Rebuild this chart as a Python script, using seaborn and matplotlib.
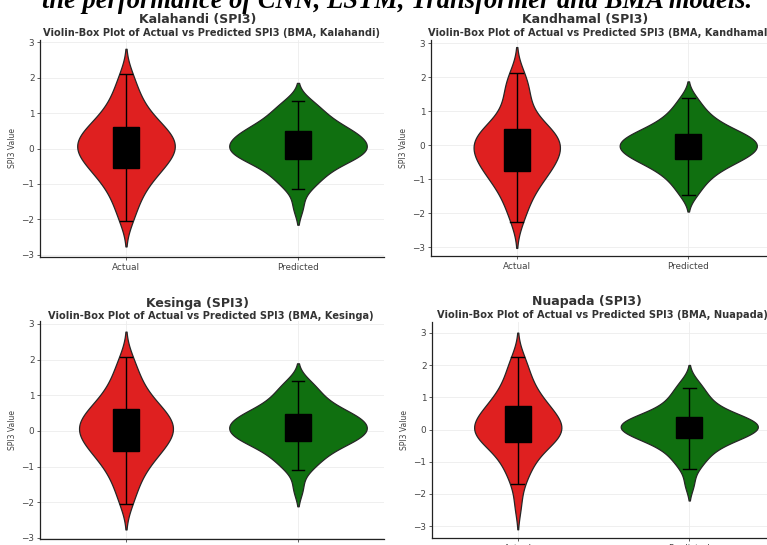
import numpy as np
import pandas as pd
import matplotlib
matplotlib.use("Agg")
import matplotlib.pyplot as plt
import seaborn as sns

# ---------------- data ----------------
categories = ["Actual", "Predicted"]
stations = ["Kalahandi", "Kandhamal", "Kesinga", "Nuapada"]

kalahandi_actual = [-2.05, -1.74, -1.50, -1.31, -1.15, -1.01, -0.89, -0.79, -0.70, -0.62, -0.55,
                    -0.475, -0.405, -0.34, -0.28, -0.22, -0.165, -0.11, -0.055, -0.005, 0.05,
                    0.095, 0.14, 0.19, 0.24, 0.295, 0.35, 0.41, 0.47, 0.535, 0.60,
                    0.67, 0.75, 0.84, 0.94, 1.06, 1.20, 1.36, 1.55, 1.79, 2.10]
kalahandi_pred = [-1.65, -1.15, -0.995, -0.865, -0.755, -0.655, -0.565, -0.485, -0.415, -0.35, -0.29,
                  -0.25, -0.215, -0.18, -0.145, -0.11, -0.07, -0.035, 0.0, 0.04, 0.08,
                  0.12, 0.16, 0.20, 0.24, 0.28, 0.32, 0.36, 0.405, 0.45, 0.49,
                  0.54, 0.595, 0.655, 0.725, 0.805, 0.895, 0.995, 1.105, 1.225, 1.35]
kandhamal_actual = [-2.25, -1.94, -1.70, -1.51, -1.35, -1.21, -1.09, -0.99, -0.90, -0.82, -0.75,
                    -0.67, -0.595, -0.525, -0.46, -0.395, -0.335, -0.275, -0.22, -0.165, -0.10,
                    -0.045, 0.01, 0.065, 0.12, 0.175, 0.23, 0.285, 0.345, 0.405, 0.46,
                    0.53, 0.62, 0.74, 0.89, 1.07, 1.27, 1.48, 1.69, 1.89, 2.11]
kandhamal_pred = [-1.47, -1.24, -1.07, -0.94, -0.83, -0.735, -0.655, -0.585, -0.525, -0.47, -0.42,
                  -0.375, -0.332, -0.291, -0.252, -0.214, -0.177, -0.14, -0.104, -0.067, -0.03,
                  0.005, 0.04, 0.075, 0.11, 0.145, 0.18, 0.22, 0.26, 0.30, 0.34,
                  0.39, 0.445, 0.505, 0.575, 0.655, 0.75, 0.86, 0.99, 1.16, 1.39]
kesinga_actual = [-2.05, -1.74, -1.50, -1.31, -1.15, -1.01, -0.89, -0.79, -0.70, -0.62, -0.55,
                  -0.475, -0.405, -0.34, -0.28, -0.22, -0.165, -0.11, -0.055, -0.005, 0.05,
                  0.095, 0.145, 0.195, 0.245, 0.30, 0.355, 0.415, 0.477, 0.543, 0.61,
                  0.68, 0.76, 0.85, 0.95, 1.07, 1.21, 1.37, 1.55, 1.78, 2.07]
kesinga_pred = [-1.62, -1.11, -0.955, -0.83, -0.72, -0.62, -0.535, -0.46, -0.395, -0.335, -0.28,
                -0.24, -0.205, -0.17, -0.135, -0.10, -0.06, -0.025, 0.01, 0.05, 0.09,
                0.13, 0.165, 0.20, 0.24, 0.28, 0.315, 0.35, 0.39, 0.43, 0.47,
                0.52, 0.575, 0.64, 0.715, 0.80, 0.895, 1.005, 1.125, 1.255, 1.40]
nuapada_actual = [-2.35, -1.69, -1.425, -1.215, -1.045, -0.895, -0.765, -0.65, -0.55, -0.46, -0.38,
                  -0.33, -0.28, -0.23, -0.18, -0.13, -0.08, -0.03, 0.02, 0.07, 0.12,
                  0.165, 0.215, 0.27, 0.33, 0.39, 0.455, 0.52, 0.59, 0.66, 0.73,
                  0.81, 0.90, 1.00, 1.115, 1.245, 1.395, 1.565, 1.765, 2.00, 2.26]
nuapada_pred = [-1.70, -1.22, -1.03, -0.88, -0.75, -0.64, -0.545, -0.46, -0.385, -0.32, -0.26,
                -0.225, -0.19, -0.155, -0.12, -0.085, -0.05, -0.015, 0.02, 0.05, 0.08,
                0.11, 0.14, 0.175, 0.205, 0.24, 0.27, 0.30, 0.335, 0.365, 0.40,
                0.46, 0.525, 0.60, 0.685, 0.78, 0.89, 1.01, 1.14, 1.30, 1.50]

series = {
    "Kalahandi": (kalahandi_actual, kalahandi_pred),
    "Kandhamal": (kandhamal_actual, kandhamal_pred),
    "Kesinga": (kesinga_actual, kesinga_pred),
    "Nuapada": (nuapada_actual, nuapada_pred),
}
yticks = [-3, -2, -1, 0, 1, 2, 3]

# ---------------- layout (pixels) ----------------
W, H = 767, 545
fig = plt.figure(figsize=(W / 100, H / 100), dpi=100)


def px_axes(l, t, r, b):
    return fig.add_axes([l / W, 1 - b / H, (r - l) / W, (b - t) / H])


panel_boxes = {
    "Kalahandi": (40, 40, 384, 257),
    "Kandhamal": (431, 40, 774, 256),
    "Kesinga": (40, 321, 384, 539),
    "Nuapada": (432, 322, 775, 538),
}
panel_ylims = {
    "Kalahandi": (-3.06, 3.06),
    "Kandhamal": (-3.26, 3.09),
    "Kesinga": (-3.03, 3.08),
    "Nuapada": (-3.37, 3.34),
}
title_pos = {
    "Kalahandi": (198, 20, 211, 33),
    "Kandhamal": (585, 20, 600, 33),
    "Kesinga": (197, 303, 211, 316),
    "Nuapada": (587, 302, 602, 315),
}

palette = ["red", "green"]

for name in stations:
    act, pred = series[name]
    df = pd.DataFrame({
        "Type": [categories[0]] * len(act) + [categories[1]] * len(pred),
        "SPI3": list(act) + list(pred),
    })
    ax = px_axes(*panel_boxes[name])
    sns.violinplot(data=df, x="Type", y="SPI3", hue="Type", palette=palette,
                   legend=False, inner=None, bw_method=0.4, cut=1.9,
                   common_norm=True, density_norm="area",
                   linewidth=0.9, ax=ax)
    sns.boxplot(data=df, x="Type", y="SPI3", width=0.15, color="black",
                saturation=1, linecolor="black", linewidth=1.0,
                showfliers=False, ax=ax)
    ax.set_ylim(*panel_ylims[name])
    ax.set_xlim(-0.5, 1.5)
    ax.set_yticks(yticks)
    ax.grid(True, color="#ececec", linewidth=0.6)
    ax.set_axisbelow(True)
    for s in ["top", "right"]:
        ax.spines[s].set_visible(False)
    for s in ["left", "bottom"]:
        ax.spines[s].set_color("#222222")
        ax.spines[s].set_linewidth(0.9)
    ax.tick_params(axis="both", labelsize=6.4, colors="#444444", length=2.5,
                   width=0.6, pad=1.5)
    ax.set_xlabel("")
    ax.set_ylabel("SPI3 Value", fontsize=5.5, color="#444444", labelpad=3)
    tx, ty, sx, sy = title_pos[name]
    fig.text(tx / W, 1 - ty / H, f"{name} (SPI3)", ha="center", va="center",
             fontsize=9.0, fontweight="bold", color="#333333")
    fig.text(sx / W, 1 - sy / H,
             f"Violin-Box Plot of Actual vs Predicted SPI3 (BMA, {name})",
             ha="center", va="center", fontsize=7.1, fontweight="bold",
             color="#333333")

fig.text(42 / W, 1 - 8.5 / H,
         "the performance of CNN, LSTM, Transformer and BMA models.",
         ha="left", va="baseline", fontsize=19.1, fontweight="bold",
         fontstyle="italic", family="Liberation Serif", color="black")

fig.savefig("out.png", dpi=100)
